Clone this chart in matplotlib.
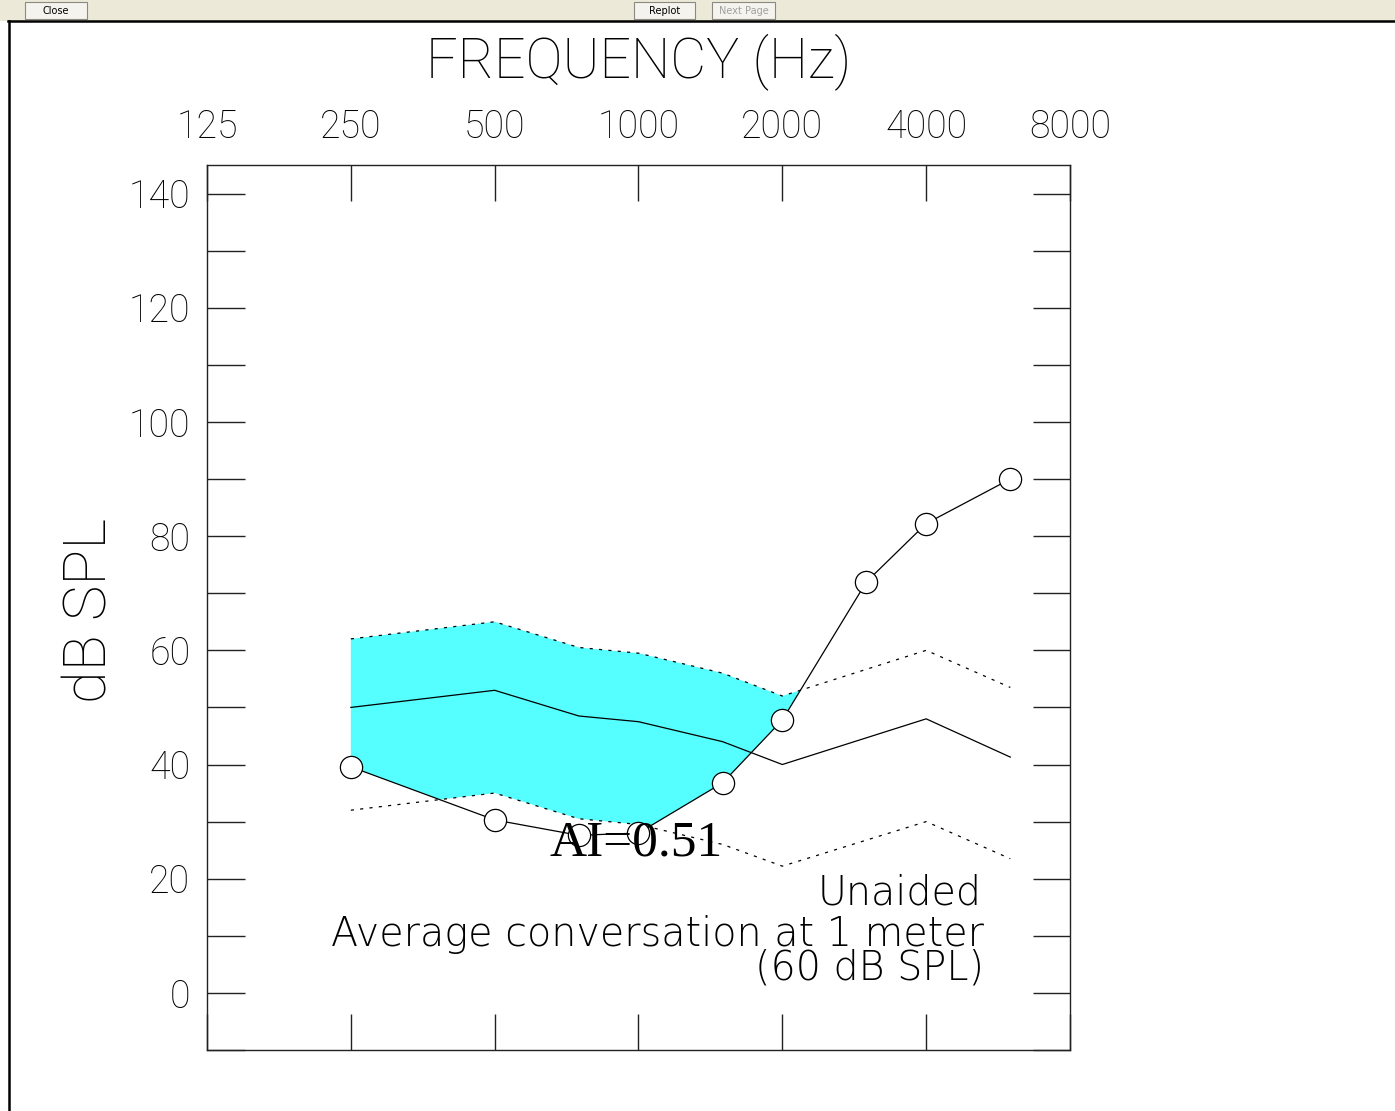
"""
Unaided audiogram with speech banana and articulation index.
"""

import numpy as np
import matplotlib
matplotlib.use("Agg")
import matplotlib.pyplot as plt
from matplotlib import font_manager
from matplotlib.patches import Rectangle
from matplotlib.ticker import FixedLocator, NullLocator, FixedFormatter

# ---- data ----
tick_freqs = [125, 250, 500, 1000, 2000, 4000, 8000]
tick_labels = ["125", "250", "500", "1000", "2000", "4000", "8000"]

band_freqs = [250, 500, 750, 1000, 1500, 2000, 4000, 6000]
band_mean = [50, 53, 48.5, 47.5, 44, 40, 48, 41.3]
band_upper = [62, 65, 60.5, 59.5, 56, 52, 60, 53.5]
band_lower = [32, 35, 30.5, 29.5, 26, 22.2, 30, 23.5]

thr_freqs = [250, 500, 750, 1000, 1500, 2000, 3000, 4000, 6000]
thr_levels = [39.6, 30.3, 27.6, 28, 36.8, 47.8, 72, 82.2, 90]

ai_text = "AI=0.51"
note_lines = ["Unaided", "Average conversation at 1 meter", "(60 dB SPL)"]

W, H = 1395, 1111
names = {f.name for f in font_manager.fontManager.ttflist}
thin = [n for n in ["Roboto", "Lato", "Open Sans", "Liberation Sans"] if n in names]
plt.rcParams["font.family"] = thin + ["DejaVu Sans"]
plt.rcParams["font.weight"] = "light"

fig = plt.figure(figsize=(W / 100, H / 100), dpi=100)
fig.patch.set_facecolor("white")


def px(x, y):
    """pixel position -> figure fraction"""
    return x / W, 1 - y / H


# window chrome: toolbar strip and frame lines
fig.patches.append(Rectangle(px(0, 21), 1, 21 / H, transform=fig.transFigure,
                             facecolor="#ECE9D8", edgecolor="none", zorder=0))
fig.add_artist(plt.Line2D([8 / W, 1], [1 - 21 / H] * 2, transform=fig.transFigure,
                          color="black", lw=1.8))
fig.add_artist(plt.Line2D([9 / W] * 2, [0, 1 - 21 / H], transform=fig.transFigure,
                          color="black", lw=1.8))
for x0, x1, label, col in [(25, 87, "Close", "black"), (634, 695, "Replot", "black"),
                           (712, 775, "Next Page", "#A0A0A0")]:
    fig.patches.append(Rectangle(px(x0, 19), (x1 - x0) / W, 17 / H,
                                 transform=fig.transFigure, facecolor="#F4F3EE",
                                 edgecolor="#8C8A80", lw=0.8, zorder=1))
    fig.text(*px((x0 + x1) / 2, 11), label, ha="center", va="center",
             fontsize=7, color=col, family="DejaVu Sans", weight="normal")

ax = fig.add_axes([207 / W, 1 - 1050 / H, 863 / W, 885 / H])
ax.set_xscale("log", base=2)
ax.set_xlim(125, 8000)
ax.set_ylim(-10, 145)

# speech banana, audible part shaded
fx = np.geomspace(250, 6000, 1200)
lx = np.log2(fx)
up = np.interp(lx, np.log2(band_freqs), band_upper)
lo = np.interp(lx, np.log2(band_freqs), band_lower)
th = np.interp(lx, np.log2(thr_freqs), thr_levels)
bottom = np.maximum(lo, th)
ax.fill_between(fx, bottom, up, where=up > bottom, interpolate=True,
                facecolor="#55FFFF", edgecolor="none", zorder=1)

dotted = (0, (2.5, 5))
ax.plot(band_freqs, band_upper, color="black", lw=0.9, ls=dotted, zorder=2)
ax.plot(band_freqs, band_lower, color="black", lw=0.9, ls=dotted, zorder=2)
ax.plot(band_freqs, band_mean, color="black", lw=0.9, zorder=2)

# unaided thresholds
ax.plot(thr_freqs, thr_levels, color="black", lw=0.9, zorder=3,
        marker="o", markersize=16, markerfacecolor="white",
        markeredgecolor="black", markeredgewidth=0.9)

# axes styling
for s in ax.spines.values():
    s.set_linewidth(1.0)
    s.set_color("#222222")
ax.xaxis.set_major_locator(FixedLocator(tick_freqs))
ax.xaxis.set_major_formatter(FixedFormatter(tick_labels))
ax.xaxis.set_minor_locator(NullLocator())
ax.tick_params(axis="x", which="major", top=True, bottom=True, labeltop=True,
               labelbottom=False, direction="in", length=26, width=1.0,
               color="#222222", labelsize=27, pad=14)
ax.yaxis.set_major_locator(FixedLocator(range(0, 141, 20)))
ax.yaxis.set_minor_locator(FixedLocator(range(-10, 146, 10)))
ax.tick_params(axis="y", which="both", left=True, right=True, direction="in",
               length=27, width=1.0, color="#222222", labelsize=27, pad=12)

fig.text(*px(639, 62), "FREQUENCY (Hz)", ha="center", va="center", fontsize=40)
ax.text((90 - 207) / 863, (1050 - 610) / 885, "dB SPL", transform=ax.transAxes,
        rotation=90, ha="center", va="center", fontsize=43)

ax.text((636 - 207) / 863, (1050 - 843) / 885, ai_text, transform=ax.transAxes,
        ha="center", va="center", fontsize=37, family="Liberation Serif",
        weight="normal", zorder=6)
notes_font = dict(fontsize=28.5, family="DejaVu Sans", weight="light", zorder=6)
ax.text((982 - 207) / 863, (1050 - 893) / 885, note_lines[0], transform=ax.transAxes,
        ha="right", va="center", **notes_font)
ax.text((984 - 207) / 863, (1050 - 951) / 885, note_lines[1] + "\n" + note_lines[2],
        transform=ax.transAxes, ha="right", va="center", multialignment="right",
        linespacing=0.83, **notes_font)

fig.savefig("out.png", dpi=100)
